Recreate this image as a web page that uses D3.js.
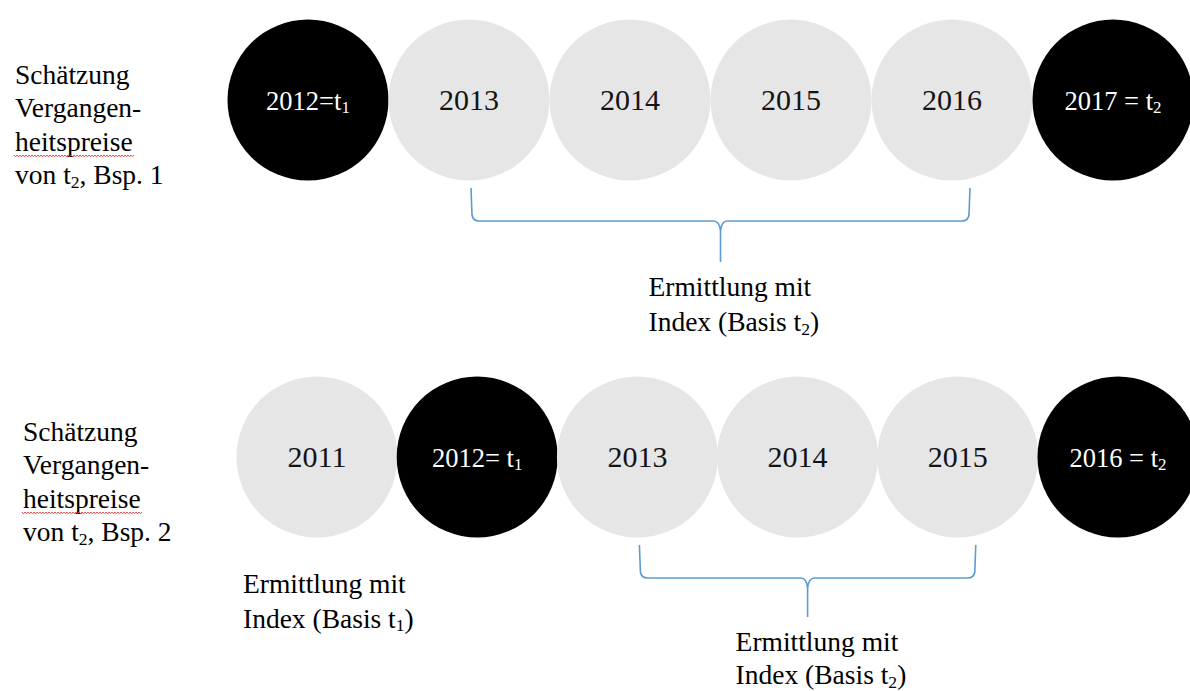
<!DOCTYPE html>
<html>
<head>
<meta charset="utf-8">
<script src="https://cdn.jsdelivr.net/npm/d3@7"></script>
<style>
  html, body { margin: 0; padding: 0; background: #fff; }
  svg { display: block; }
  text { font-family: "Liberation Serif", "Times New Roman", serif; }
</style>
</head>
<body>
<svg id="chart" width="1190" height="691"></svg>
<script>
// ---------- data ----------
const row1Labels = ["2012=t_1", "2013", "2014", "2015", "2016", "2017 = t_2"];
const row1Kinds  = ["known", "estimated", "estimated", "estimated", "estimated", "known"];
const row2Labels = ["2011", "2012= t_1", "2013", "2014", "2015", "2016 = t_2"];
const row2Kinds  = ["estimated", "known", "estimated", "estimated", "estimated", "known"];

const row1Title = ["Schätzung", "Vergangen-", "heitspreise", "von t_2, Bsp. 1"];
const row2Title = ["Schätzung", "Vergangen-", "heitspreise", "von t_2, Bsp. 2"];

const row1Brackets = [{ from: 1, to: 4, text: ["Ermittlung mit", "Index (Basis t_2)"] }];
const row2Brackets = [{ from: 2, to: 4, text: ["Ermittlung mit", "Index (Basis t_2)"] }];
const row2Notes    = [{ at: 0, text: ["Ermittlung mit", "Index (Basis t_1)"] }];

// ---------- layout ----------
const svg = d3.select("#chart");
const R = 80.5;
const GRAY = "#e6e6e6";
const BLUE = "#5b9bd5";

const rows = [
  { labels: row1Labels, kinds: row1Kinds, title: row1Title, brackets: row1Brackets, notes: [],
    x: d3.scaleLinear().domain([0, 5]).range([308, 1113]), cy: 100,
    titleX: 15, titleY: 84, bracketTop: 188, bracketMid: 221, bracketTip: 262,
    bracketTextY: 296, bracketTextStep: 35 },
  { labels: row2Labels, kinds: row2Kinds, title: row2Title, brackets: row2Brackets, notes: row2Notes,
    x: d3.scaleLinear().domain([0, 5]).range([317, 1118]), cy: 457,
    titleX: 23, titleY: 441, bracketTop: 545, bracketMid: 578, bracketTip: 617,
    bracketTextY: 651, bracketTextStep: 33 }
];

const fill  = d3.scaleOrdinal().domain(["known", "estimated"]).range(["#000000", GRAY]);
const ink   = d3.scaleOrdinal().domain(["known", "estimated"]).range(["#ffffff", "#141414"]);
const fsize = d3.scaleOrdinal().domain(["known", "estimated"]).range([26.5, 30]);

// append text with "_d" subscripts
function richText(sel, str) {
  const parts = str.split(/_(\d)/);
  parts.forEach((p, i) => {
    if (p === "") return;
    if (i % 2 === 1) {
      sel.append("tspan").attr("font-size", "0.64em").attr("dy", "0.22em").text(p);
    } else {
      const t = sel.append("tspan").text(p);
      if (i > 0) t.attr("dy", "-0.14em");
    }
  });
}

const LINE = 33.3;
const LBL = 27.5;

rows.forEach(row => {
  const g = svg.append("g");

  // circles
  const items = row.labels.map((l, i) => ({ label: l, kind: row.kinds[i], i }));
  g.selectAll("circle.node").data(items).join("circle")
    .attr("class", "node")
    .attr("cx", d => row.x(d.i))
    .attr("cy", row.cy)
    .attr("r", R)
    .attr("fill", d => fill(d.kind));

  g.selectAll("text.node").data(items).join("text")
    .attr("class", "node")
    .attr("x", d => row.x(d.i))
    .attr("y", row.cy + 9.5)
    .attr("text-anchor", "middle")
    .attr("font-size", d => fsize(d.kind))
    .attr("fill", d => ink(d.kind))
    .each(function (d) { richText(d3.select(this), d.label); });

  // left title
  row.title.forEach((line, k) => {
    const t = g.append("text")
      .attr("x", row.titleX)
      .attr("y", row.titleY + k * LINE)
      .attr("font-size", LBL)
      .attr("fill", "#000");
    richText(t, line);
  });
  // red spell-check squiggle below the third line
  {
    const y = row.titleY + 2 * LINE + 5;
    const x0 = row.titleX - 1, x1 = row.titleX + 120;
    const pts = d3.range(x0, x1, 1.5).map((x, j) => [x, y + (j % 2 ? 1.2 : -0.6)]);
    g.append("path")
      .attr("d", d3.line()(pts))
      .attr("fill", "none")
      .attr("stroke", "#e03c3c")
      .attr("stroke-width", 0.9);
  }

  // brackets
  row.brackets.forEach(b => {
    const x0 = row.x(b.from) + 2;
    const x1 = row.x(b.to) + 18;
    const xm = (x0 + x1) / 2;
    const y0 = row.bracketTop, y1 = row.bracketMid, y2 = row.bracketTip;
    const p = d3.path();
    p.moveTo(x0, y0);
    p.lineTo(x0 + 1, y1 - 6);
    p.quadraticCurveTo(x0 + 2, y1, x0 + 8, y1);
    p.lineTo(xm - 7, y1);
    p.quadraticCurveTo(xm - 1, y1, xm, y1 + 10);
    p.lineTo(xm, y2);
    p.moveTo(xm, y1 + 10);
    p.quadraticCurveTo(xm + 1, y1, xm + 7, y1);
    p.lineTo(x1 - 8, y1);
    p.quadraticCurveTo(x1 - 2, y1, x1 - 1, y1 - 6);
    p.lineTo(x1, y0);
    g.append("path")
      .attr("d", p.toString())
      .attr("fill", "none")
      .attr("stroke", BLUE)
      .attr("stroke-width", 1.6);

    b.text.forEach((line, k) => {
      const t = g.append("text")
        .attr("x", xm - 72)
        .attr("y", row.bracketTextY + k * row.bracketTextStep)
        .attr("font-size", LBL)
        .attr("fill", "#000");
      richText(t, line);
    });
  });

  // notes below a circle
  row.notes.forEach(n => {
    n.text.forEach((line, k) => {
      const t = g.append("text")
        .attr("x", row.x(n.at) - 74)
        .attr("y", 593 + k * 34.5)
        .attr("font-size", LBL)
        .attr("fill", "#000");
      richText(t, line);
    });
  });
});
</script>
</body>
</html>
